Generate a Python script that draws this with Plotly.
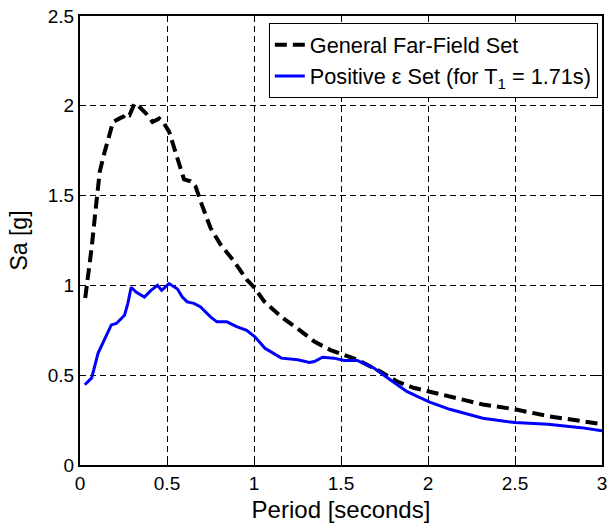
import plotly.graph_objects as go

# General Far-Field Set (black dashed)
period_far = [0.03, 0.067, 0.095, 0.114, 0.142, 0.171, 0.19, 0.228, 0.25, 0.266, 0.285,
              0.313, 0.341, 0.38, 0.417, 0.455, 0.484, 0.512, 0.54, 0.569, 0.598, 0.636,
              0.664, 0.70, 0.75, 0.806, 0.882, 0.96, 1.0, 1.06, 1.157, 1.25, 1.347, 1.44,
              1.5, 1.594, 1.726, 1.82, 1.916, 2.0, 2.125, 2.315, 2.5, 2.69, 2.88, 3.0]
sa_far = [0.93, 1.21, 1.47, 1.635, 1.745, 1.856, 1.91, 1.93, 1.94, 1.957, 1.948,
          2.013, 1.994, 1.957, 1.91, 1.93, 1.90, 1.856, 1.764, 1.672, 1.59, 1.58,
          1.552, 1.45, 1.32, 1.23, 1.138, 1.03, 0.99, 0.91, 0.825, 0.76, 0.687, 0.64,
          0.62, 0.586, 0.52, 0.466, 0.43, 0.41, 0.383, 0.337, 0.31, 0.272, 0.245, 0.227]

# Positive epsilon set (blue)
period_pos = [0.028, 0.067, 0.104, 0.142, 0.18, 0.209, 0.256, 0.275, 0.294, 0.322, 0.37,
              0.408, 0.446, 0.469, 0.512, 0.56, 0.588, 0.616, 0.655, 0.693, 0.75, 0.787,
              0.844, 0.9, 0.958, 1.005, 1.063, 1.11, 1.157, 1.252, 1.318, 1.347, 1.394,
              1.46, 1.518, 1.594, 1.689, 1.783, 1.878, 1.935, 2.01, 2.125, 2.315, 2.5,
              2.69, 2.88, 3.0]
sa_pos = [0.447, 0.485, 0.623, 0.705, 0.78, 0.788, 0.834, 0.9, 0.99, 0.963, 0.935,
          0.972, 1.0, 0.972, 1.01, 0.98, 0.935, 0.908, 0.9, 0.88, 0.825, 0.797,
          0.797, 0.77, 0.75, 0.714, 0.65, 0.623, 0.595, 0.586, 0.571, 0.576, 0.60,
          0.595, 0.582, 0.582, 0.54, 0.475, 0.41, 0.383, 0.35, 0.31, 0.26, 0.236,
          0.227, 0.208, 0.19]

x_ticks = [0, 0.5, 1, 1.5, 2, 2.5, 3]
x_tick_labels = ["0", "0.5", "1", "1.5", "2", "2.5", "3"]
y_ticks = [0, 0.5, 1, 1.5, 2, 2.5]
y_tick_labels = ["0", "0.5", "1", "1.5", "2", "2.5"]

FONT = "Liberation Sans, Arial, Helvetica, sans-serif"

fig = go.Figure()
fig.add_trace(go.Scatter(
    x=period_far, y=sa_far, mode="lines", name="General Far-Field Set",
    line=dict(color="black", width=4, dash="12px,6px"),
))
fig.add_trace(go.Scatter(
    x=period_pos, y=sa_pos, mode="lines",
    name="Positive ε Set (for T<sub>1</sub> = 1.71s)",
    line=dict(color="#0000FF", width=3),
))

axis_common = dict(
    showline=True, linecolor="black", linewidth=2, mirror="ticks",
    ticks="inside", ticklen=6, tickwidth=1, tickcolor="black",
    showgrid=True, gridcolor="black", gridwidth=1, griddash="6px,4px",
    zeroline=False, tickfont=dict(family=FONT, size=19, color="black"),
)

fig.update_xaxes(
    range=[0, 3], tickvals=x_ticks, ticktext=x_tick_labels,
    title=dict(text="Period [seconds]", font=dict(family=FONT, size=24, color="black"), standoff=8),
    **axis_common,
)
fig.update_yaxes(
    range=[0, 2.5], tickvals=y_ticks, ticktext=y_tick_labels,
    title=dict(text="Sa [g]", font=dict(family=FONT, size=23, color="black"), standoff=14),
    **axis_common,
)

fig.update_layout(
    width=613, height=525,
    margin=dict(l=80, r=6, t=15, b=60),
    paper_bgcolor="white", plot_bgcolor="white",
    font=dict(family=FONT, color="black"),
    showlegend=True,
    legend=dict(
        x=0.992, xanchor="right", y=0.984, yanchor="top",
        bgcolor="white", bordercolor="black", borderwidth=1,
        font=dict(family=FONT, size=21.7, color="black"),
        tracegroupgap=0, itemwidth=30,
    ),
)

fig.write_html("out.html", config={"displayModeBar": False},
               post_script="document.body.style.margin='0';")
